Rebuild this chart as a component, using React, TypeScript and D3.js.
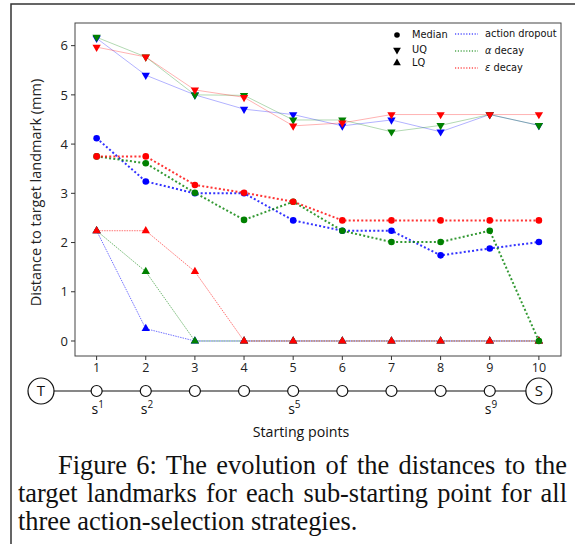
import React, { useLayoutEffect, useRef, useState } from "react";
import * as d3 from "d3";

const points = [1, 2, 3, 4, 5, 6, 7, 8, 9, 10];
const strategies = ["action dropout", "alpha decay", "epsilon decay"];
const colors = ["#0000ff", "#008000", "#ff0000"];

// UQ (upper quartile)
const uqDropout = [6.15, 5.4, 5.0, 4.71, 4.6, 4.37, 4.49, 4.25, 4.6, 4.38];
const uqAlpha = [6.17, 5.77, 5.0, 4.99, 4.49, 4.49, 4.25, 4.38, 4.6, 4.38];
const uqEpsilon = [5.97, 5.77, 5.1, 4.95, 4.37, 4.43, 4.6, 4.6, 4.6, 4.6];

// Median
const medDropout = [4.12, 3.24, 3.0, 3.0, 2.45, 2.24, 2.24, 1.74, 1.88, 2.01];
const medAlpha = [3.75, 3.61, 3.01, 2.46, 2.83, 2.24, 2.01, 2.01, 2.24, 0];
const medEpsilon = [3.75, 3.75, 3.17, 3.01, 2.83, 2.45, 2.45, 2.45, 2.45, 2.45];

// LQ (lower quartile)
const lqDropout = [2.24, 0.25, 0, 0, 0, 0, 0, 0, 0, 0];
const lqAlpha = [2.24, 1.41, 0, 0, 0, 0, 0, 0, 0, 0];
const lqEpsilon = [2.24, 2.24, 1.41, 0, 0, 0, 0, 0, 0, 0];

const yTicks = [0, 1, 2, 3, 4, 5, 6];
const subLabels = [
  { i: 1, sup: "1" },
  { i: 2, sup: "2" },
  { i: 5, sup: "5" },
  { i: 9, sup: "9" },
];
const captionLines = [
  "Figure 6: The evolution of the distances to the",
  "target landmarks for each sub-starting point for all",
  "three action-selection strategies.",
];

const uq = [uqDropout, uqAlpha, uqEpsilon];
const med = [medDropout, medAlpha, medEpsilon];
const lq = [lqDropout, lqAlpha, lqEpsilon];

export default function App() {
  const W = 575;
  const H = 544;
  const left = 75, right = 561, top = 23, bottom = 356;
  const x = d3.scaleLinear().domain([0.56, 10.45]).range([left, right]);
  const y = d3.scaleLinear().domain([-0.305, 6.46]).range([bottom, top]);
  const line = (vals: number[]) =>
    d3.line<number>().x((_, i) => x(points[i])).y((v) => y(v))(vals) || "";
  const tri = d3.symbol().type(d3.symbolTriangle).size(30)() || "";
  const triSmall = d3.symbol().type(d3.symbolTriangle).size(26)() || "";

  const refs = [useRef<SVGTextElement>(null), useRef<SVGTextElement>(null)];
  const [ws, setWs] = useState<number[]>([0, 0]);
  useLayoutEffect(() => {
    const targets = [567 - 58, 567 - 18];
    const out = refs.map((r, k) => {
      const el = r.current;
      if (!el) return 0;
      const w = el.getComputedTextLength();
      const gaps = captionLines[k].split(" ").length - 1;
      return (targets[k] - w) / gaps;
    });
    setWs(out);
  }, []);

  const diagY = 391;
  const tX = 41;
  const sX = x(10);

  return (
    <svg width={W} height={H} style={{ position: "absolute", left: 0, top: 0 }}>
      <rect width={W} height={H} fill="#fff" />
      <path d={`M11,${H} V4 H${W}`} fill="none" stroke="#333" strokeWidth={1.5} />

      {/* plot frame */}
      <rect x={left} y={top} width={right - left} height={bottom - top} fill="#fff" stroke="#444" strokeWidth={1} />

      {/* y axis */}
      {yTicks.map((t) => (
        <g key={t}>
          <line x1={left - 4} x2={left} y1={y(t)} y2={y(t)} stroke="#333" />
          <text x={left - 7} y={y(t)} dy="0.36em" textAnchor="end" fontFamily="Open Sans" fontSize={13} fill="#222">
            {t}
          </text>
        </g>
      ))}
      <text
        transform={`translate(41,${(top + bottom) / 2 + 3}) rotate(-90)`}
        textAnchor="middle"
        fontFamily="Open Sans"
        fontSize={14.5}
        fill="#222"
      >
        Distance to target landmark (mm)
      </text>

      {/* x axis */}
      {points.map((p) => (
        <g key={p}>
          <line x1={x(p)} x2={x(p)} y1={bottom} y2={bottom + 4} stroke="#333" />
          <text x={x(p)} y={bottom + 16} textAnchor="middle" fontFamily="Open Sans" fontSize={12.5} fill="#222">
            {p}
          </text>
        </g>
      ))}

      {/* UQ lines */}
      {uq.map((vals, k) => (
        <path key={"uql" + k} d={line(vals)} fill="none" stroke={colors[k]} strokeOpacity={0.3} strokeWidth={1} />
      ))}
      {/* LQ lines */}
      {lq.map((vals, k) => (
        <path key={"lql" + k} d={line(vals)} fill="none" stroke={colors[k]} strokeOpacity={0.55} strokeWidth={1} strokeDasharray="1.5,1" />
      ))}
      {/* Median lines */}
      {med.map((vals, k) => (
        <path key={"ml" + k} d={line(vals)} fill="none" stroke={colors[k]} strokeOpacity={0.8} strokeWidth={2} strokeDasharray="2,2.2" />
      ))}

      {/* markers */}
      {uq.map((vals, k) =>
        vals.map((v, i) => (
          <path key={`uq${k}-${i}`} d={tri} transform={`translate(${x(points[i])},${y(v)}) rotate(180)`} fill={colors[k]} />
        ))
      )}
      {lq.map((vals, k) =>
        vals.map((v, i) => (
          <path key={`lq${k}-${i}`} d={tri} transform={`translate(${x(points[i])},${y(v)})`} fill={colors[k]} />
        ))
      )}
      {med.map((vals, k) =>
        vals.map((v, i) => (
          <circle key={`m${k}-${i}`} cx={x(points[i])} cy={y(v)} r={3.3} fill={colors[k]} />
        ))
      )}

      {/* legend */}
      <g fontFamily="DejaVu Sans" fontSize={9.8} fill="#111">
        <circle cx={397} cy={35} r={2.8} fill="#000" />
        <text x={412} y={35} dy="0.35em">Median</text>
        <path d={triSmall} transform={`translate(397,50) rotate(180)`} fill="#000" />
        <text x={412} y={50} dy="0.35em">UQ</text>
        <path d={triSmall} transform={`translate(397,63)`} fill="#000" />
        <text x={412} y={63} dy="0.35em">LQ</text>

        {strategies.map((s, k) => {
          const yy = [34, 51, 68][k];
          return (
            <g key={s}>
              <line x1={455} x2={478} y1={yy} y2={yy} stroke={colors[k]} strokeWidth={1.2} strokeDasharray="1.2,1.6" />
              <text x={485} y={yy} dy="0.35em">
                {k === 0 ? (
                  "action dropout"
                ) : (
                  <>
                    <tspan fontStyle="italic">{k === 1 ? "α" : "ε"}</tspan>
                    <tspan> decay</tspan>
                  </>
                )}
              </text>
            </g>
          );
        })}
      </g>

      {/* starting points diagram */}
      <line x1={tX} x2={sX} y1={diagY} y2={diagY} stroke="#111" strokeWidth={1.2} />
      <circle cx={tX} cy={diagY} r={13} fill="#fff" stroke="#111" strokeWidth={1.2} />
      <text x={tX} y={diagY} dy="0.36em" textAnchor="middle" fontFamily="Open Sans" fontSize={15} fill="#111">T</text>
      <circle cx={sX} cy={diagY} r={13} fill="#fff" stroke="#111" strokeWidth={1.2} />
      <text x={sX} y={diagY} dy="0.36em" textAnchor="middle" fontFamily="Open Sans" fontSize={15} fill="#111">S</text>
      {points.slice(0, 9).map((p) => (
        <circle key={"c" + p} cx={x(p)} cy={diagY} r={5.5} fill="#fff" stroke="#111" strokeWidth={1.2} />
      ))}
      {subLabels.map((s) => (
        <text key={"s" + s.i} x={x(s.i) - 5} y={diagY + 23} fontFamily="Open Sans" fontSize={14} fill="#111">
          s<tspan dy={-6} fontSize={10}>{s.sup}</tspan>
        </text>
      ))}
      <text x={301} y={437} textAnchor="middle" fontFamily="Open Sans" fontSize={14.2} fill="#111">
        Starting points
      </text>

      {/* caption */}
      <g fontFamily="Liberation Serif" fontSize={26.4} fill="#111">
        <text ref={refs[0]} x={58} y={474} style={{ wordSpacing: `${ws[0]}px` }}>{captionLines[0]}</text>
        <text ref={refs[1]} x={18} y={502} style={{ wordSpacing: `${ws[1]}px` }}>{captionLines[1]}</text>
        <text x={18} y={530}>{captionLines[2]}</text>
      </g>
    </svg>
  );
}
